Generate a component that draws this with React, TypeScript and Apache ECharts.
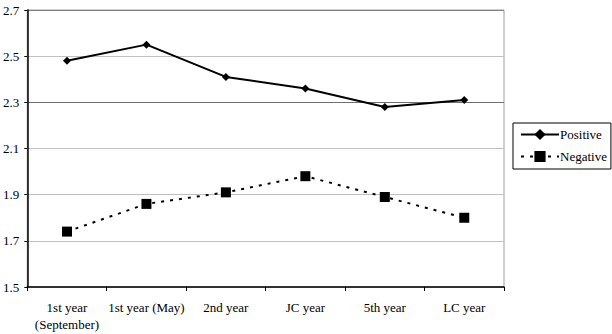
import React, { useEffect, useRef } from "react";
import * as echarts from "echarts";

const categories = ["1st year\n(September)", "1st year (May)", "2nd year", "JC year", "5th year", "LC year"];
const positive = [2.48, 2.55, 2.41, 2.36, 2.28, 2.31];
const negative = [1.74, 1.86, 1.91, 1.98, 1.89, 1.8];
const yMin = 1.5;
const yMax = 2.7;
const yStep = 0.2;

const FONT = "Liberation Serif";

export default function App() {
  const ref = useRef<HTMLDivElement>(null);
  useEffect(() => {
    if (!ref.current) return;
    const chart = echarts.init(ref.current, null, { renderer: "svg" });
    chart.setOption({
      animation: false,
      backgroundColor: "#ffffff",
      textStyle: { fontFamily: FONT, color: "#000" },
      grid: {
        left: 23,
        right: 108,
        top: 10,
        bottom: 47,
        show: true,
        borderColor: "#a0a0a0",
        borderWidth: 1,
      },
      legend: {
        orient: "vertical",
        left: 513,
        top: 123,
        padding: [5, 4, 6, 7],
        itemGap: 9,
        itemWidth: 38,
        itemHeight: 14,
        borderColor: "#000",
        borderWidth: 1,
        textStyle: { fontFamily: FONT, fontSize: 13, color: "#000", padding: [0, 0, 0, -4] },
        data: ["Positive", "Negative"],
      },
      xAxis: {
        type: "category",
        data: categories,
        boundaryGap: true,
        axisLine: { lineStyle: { color: "#000", width: 1.5 } },
        axisTick: { show: true, length: 4, lineStyle: { color: "#000" } },
        axisLabel: { fontFamily: FONT, fontSize: 13, color: "#000", margin: 12, lineHeight: 17, interval: 0 },
        splitLine: { show: false },
      },
      yAxis: {
        type: "value",
        min: yMin,
        max: yMax,
        interval: yStep,
        axisLine: { show: true, lineStyle: { color: "#000", width: 1.5 } },
        axisTick: { show: true, length: 3, lineStyle: { color: "#000" } },
        axisLabel: {
          fontFamily: FONT,
          fontSize: 13,
          color: "#000",
          margin: 8,
          formatter: (v: number) => v.toFixed(1),
        },
        splitLine: {
          show: true,
          lineStyle: {
            color: ["#c0c0c0", "#c0c0c0", "#c0c0c0", "#c0c0c0", "#707070", "#c0c0c0", "#808080"],
            width: 1,
          },
        },
      },
      series: [
        {
          name: "Positive",
          type: "line",
          data: positive,
          symbol: "diamond",
          symbolSize: 8,
          itemStyle: { color: "#000" },
          lineStyle: { color: "#000", width: 2 },
        },
        {
          name: "Negative",
          type: "line",
          data: negative,
          symbol: "rect",
          symbolSize: 10,
          itemStyle: { color: "#000" },
          lineStyle: { color: "#000", width: 2, type: [3, 6] },
        },
      ],
    });
    return () => chart.dispose();
  }, []);
  return (
    <div
      ref={ref}
      style={{ position: "fixed", left: 0, top: 0, width: 612, height: 334, background: "#fff" }}
    />
  );
}
